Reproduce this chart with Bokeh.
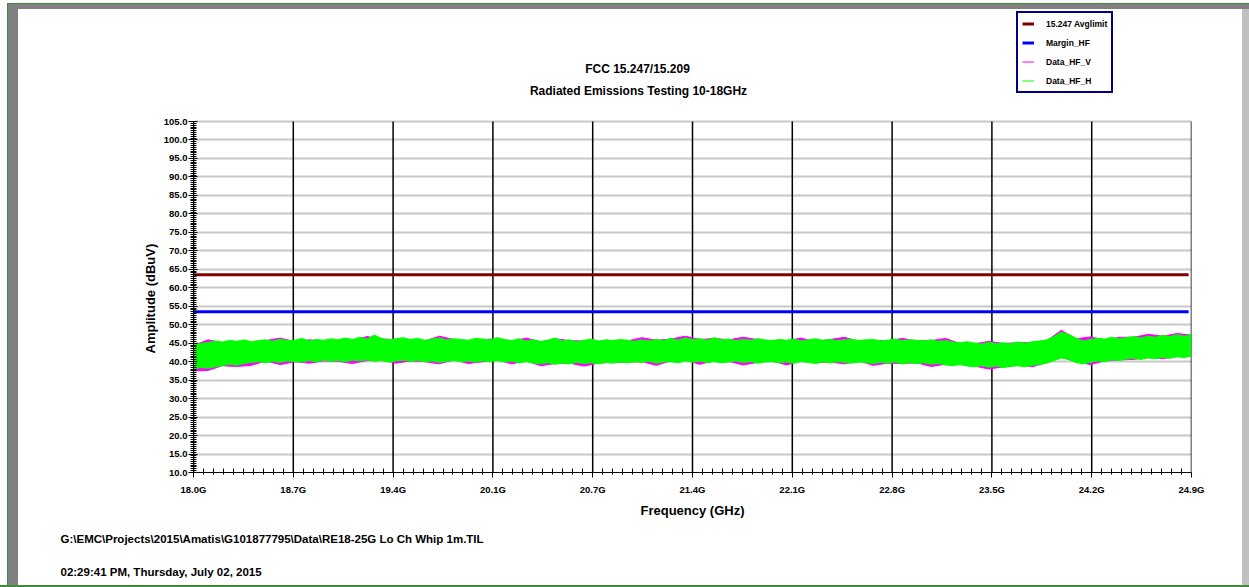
import numpy as np
from bokeh.plotting import figure
from bokeh.models import (Range1d, SingleIntervalTicker, FixedTicker, PrintfTickFormatter,
                          CustomJSTickFormatter, Legend, LegendItem, Title, Label)
from bokeh.embed import file_html
from bokeh.resources import INLINE

FONT = "Liberation Sans"

# ---------------- data ----------------
title_main = "FCC 15.247/15.209"
title_sub = "Radiated Emissions Testing 10-18GHz"
x_label = "Frequency (GHz)"
y_label = "Amplitude (dBuV)"
file_path = "G:\\EMC\\Projects\\2015\\Amatis\\G101877795\\Data\\RE18-25G Lo Ch Whip 1m.TIL"
time_stamp = "02:29:41 PM, Thursday, July 02, 2015"

x_tick_values = [18.0, 18.69, 19.38, 20.07, 20.76, 21.45, 22.14, 22.83, 23.52, 24.21, 24.9]
x_tick_labels = ["18.0G", "18.7G", "19.4G", "20.1G", "20.7G", "21.4G",
                 "22.1G", "22.8G", "23.5G", "24.2G", "24.9G"]
y_min, y_max = 10.0, 105.0

series_names = ["15.247 Avglimit", "Margin_HF", "Data_HF_V", "Data_HF_H"]
avg_limit = 63.5      # dBuV
margin_hf = 53.5      # dBuV

# Data_HF_H envelope (max / min), 0.05 GHz steps from 18.00 to 24.90
h_hi = [44.6, 44.9, 45.2, 45.6, 45.3, 45.8, 45.5, 45.9, 45.4, 45.7,
        45.9, 45.5, 46.1, 45.7, 45.8, 46.3, 45.6, 46.0, 45.8, 46.2,
        45.9, 46.4, 46.0, 46.6, 46.1, 47.2, 46.3, 45.9, 46.2, 46.5,
        46.0, 46.3, 45.8, 46.1, 46.4, 45.9, 46.2, 46.0, 45.8, 46.3,
        46.1, 45.9, 46.5, 46.0, 45.7, 46.2, 45.6, 45.9, 45.5, 45.8,
        46.4, 45.6, 45.9, 45.4, 45.8, 46.1, 45.6, 45.9, 45.7, 46.0,
        45.8, 45.5, 45.9, 45.6, 46.0, 45.7, 46.3, 45.8, 46.4, 46.0,
        46.2, 45.8, 46.5, 45.9, 46.1, 45.7, 46.0, 45.8, 46.2, 45.9,
        45.7, 46.0, 45.8, 46.1, 45.6, 45.9, 46.2, 45.8, 46.0, 45.7,
        45.9, 46.1, 45.7, 45.9, 46.0, 45.6, 45.8, 46.1, 45.7, 45.9,
        45.8, 45.6, 45.9, 45.5, 45.7, 45.3, 45.1, 45.4, 45.0, 44.8,
        45.2, 44.9, 45.1, 44.8, 45.3, 45.0, 45.4, 45.6, 45.9, 46.8,
        48.0, 47.4, 46.4, 45.6, 46.0, 46.3, 46.1, 46.6, 46.2, 46.5,
        46.8, 46.4, 46.9, 46.6, 47.1, 46.8, 47.3, 46.9, 47.4]
h_lo = [38.0, 38.4, 38.2, 38.6, 38.9, 39.3, 39.0, 39.5, 39.8, 40.0,
        39.7, 40.1, 39.8, 40.2, 40.0, 39.9, 40.3, 40.0, 40.4, 40.1,
        40.3, 40.0, 40.4, 40.2, 40.5, 40.1, 40.3, 39.9, 40.2, 40.4,
        40.1, 40.3, 40.0, 40.2, 39.8, 40.1, 40.3, 40.0, 40.2, 39.9,
        40.2, 40.0, 40.3, 39.9, 40.1, 39.7, 40.0, 39.6, 39.4, 39.7,
        39.3, 39.6, 39.4, 39.8, 39.5, 39.7, 39.4, 39.8, 39.6, 39.9,
        39.7, 40.0, 39.8, 40.1, 39.6, 39.9, 40.0, 39.7, 40.2, 39.9,
        40.1, 39.8, 40.0, 39.7, 39.9, 40.2, 39.8, 40.0, 39.6, 39.9,
        40.0, 39.7, 39.9, 39.6, 40.0, 39.8, 39.5, 39.9, 39.7, 40.0,
        39.8, 39.6, 39.9, 39.7, 39.5, 39.8, 39.6, 39.9, 39.4, 39.7,
        39.5, 39.7, 39.3, 39.5, 39.1, 38.9, 39.2, 38.8, 38.6, 38.9,
        38.5, 38.8, 38.4, 38.7, 38.9, 38.6, 39.0, 39.2, 39.6, 40.3,
        41.0, 40.6, 39.8, 39.4, 39.8, 40.2, 40.0, 40.5, 40.3, 40.7,
        40.9, 40.6, 41.0, 40.8, 41.2, 40.9, 41.3, 41.1, 41.5]

# Data_HF_V envelope (max / min), 0.1 GHz steps from 18.0 to 24.9
v_hi = [44.4, 45.9, 45.1, 45.3, 45.2, 45.7, 46.4, 45.4, 45.9, 45.6,
        45.7, 45.8, 46.8, 46.1, 46.0, 45.8, 45.6, 46.9, 46.0, 45.6,
        45.9, 46.3, 45.5, 46.4, 45.3, 46.2, 45.7, 45.6, 45.4, 45.5,
        45.6, 46.5, 45.8, 46.1, 46.9, 46.0, 46.3, 45.9, 46.6, 46.0,
        45.5, 45.6, 46.4, 45.4, 46.0, 46.6, 45.5, 45.8, 45.6, 46.3,
        45.6, 45.7, 46.3, 44.9, 44.8, 45.5, 44.9, 45.1, 45.2, 45.7,
        48.5, 46.2, 46.7, 45.9, 46.6, 46.6, 47.4, 46.9, 47.6, 47.2]
v_lo = [37.5, 37.6, 38.9, 38.7, 39.0, 40.2, 39.2, 40.0, 39.6, 40.2,
        40.1, 39.5, 40.3, 40.5, 39.6, 40.2, 40.0, 39.4, 40.5, 39.5,
        40.0, 40.5, 39.4, 40.2, 38.9, 39.5, 39.6, 38.8, 39.6, 39.8,
        39.9, 40.0, 39.0, 40.2, 40.4, 39.3, 40.2, 40.1, 39.1, 39.8,
        40.2, 39.1, 40.2, 39.7, 39.9, 39.4, 40.2, 39.0, 39.6, 39.5,
        39.7, 38.7, 39.3, 39.4, 38.8, 38.0, 38.6, 39.1, 38.6, 39.8,
        41.2, 40.0, 39.2, 40.2, 40.5, 40.6, 41.2, 40.8, 41.4, 41.7]

f_h = np.round(18.0 + 0.05 * np.arange(len(h_hi)), 3)
f_v = np.round(18.0 + 0.1 * np.arange(len(v_hi)), 3)

colors = ["#800000", "#0000ff", "#ff00ff", "#00ff00"]

# ---------------- geometry (page pixels) ----------------
W, H = 1249, 587
PLOT_L, PLOT_R, PLOT_T, PLOT_B = 193, 1191, 121, 472   # value-area of the chart
FRAME_T = 10                                           # frame extends up for legend/titles
px_per_unit = (PLOT_B - PLOT_T) / (y_max - y_min)
y_top = y_max + (PLOT_T - FRAME_T) / px_per_unit

p = figure(width=W, height=H, output_backend="svg", toolbar_location=None,
           x_range=Range1d(18.0, 24.9), y_range=Range1d(y_min, y_top),
           min_border_left=PLOT_L, min_border_right=W - PLOT_R,
           min_border_top=FRAME_T, min_border_bottom=H - PLOT_B)
p.outline_line_color = None
p.background_fill_color = "white"
p.border_fill_color = None
p.styles = {
    "background-color": "white",
    "box-shadow": ("inset 0 -2px 0 0 #3c8c3c, inset 7px 3px 0 0 #ffffff, "
                   "inset 8px 4px 0 0 #3c8c3c, inset 18px 9px 0 0 #808080, "
                   "inset -7px 0 0 0 #c0c0c0"),
}

# axes
minor = []
for a, b in zip(x_tick_values[:-1], x_tick_values[1:]):
    minor += list(np.linspace(a, b, 11)[1:-1])
p.xaxis.ticker = FixedTicker(ticks=x_tick_values, minor_ticks=minor)
p.xaxis.formatter = CustomJSTickFormatter(args=dict(vals=x_tick_values, labs=x_tick_labels), code="""
    let best = 0, d = 1e9;
    for (let i = 0; i < vals.length; i++) { const e = Math.abs(vals[i] - tick); if (e < d) { d = e; best = i; } }
    return labs[best];
""")
p.yaxis.ticker = SingleIntervalTicker(interval=5, num_minor_ticks=10)
p.yaxis.formatter = PrintfTickFormatter(format="%.1f")
p.yaxis.bounds = (y_min, y_max)

for ax in (p.xaxis[0], p.yaxis[0]):
    ax.axis_line_color = "black"
    ax.axis_line_width = 1
    ax.major_tick_line_color = "black"
    ax.minor_tick_line_color = "black"
    ax.major_label_text_font = FONT
    ax.major_label_text_font_style = "bold"
    ax.major_label_text_font_size = "9.5px"
    ax.major_label_text_color = "black"
    ax.axis_label_text_font = FONT
    ax.axis_label_text_font_style = "bold"
    ax.axis_label_text_color = "black"
    ax.axis_label_text_font_size = "13px"

p.xaxis.axis_label = x_label
p.xaxis.major_tick_in = 0
p.xaxis.major_tick_out = 5
p.xaxis.minor_tick_in = 4
p.xaxis.minor_tick_out = 2
p.xaxis.major_label_standoff = 6
p.xaxis.axis_label_standoff = 5

p.yaxis.major_tick_in = 4
p.yaxis.major_tick_out = 5
p.yaxis.minor_tick_in = 3
p.yaxis.minor_tick_out = 3
p.yaxis.major_label_standoff = 1

# grid
p.xgrid.grid_line_color = None
p.ygrid.grid_line_color = "#c8c8c8"
p.ygrid.grid_line_width = 2
p.ygrid.bounds = (y_min, y_max)
n = len(x_tick_values)
p.segment(x0=x_tick_values, y0=[y_min] * n, x1=x_tick_values, y1=[y_max] * n,
          line_color="black", line_width=1.5)

# data
p.varea(x=f_v, y1=v_lo, y2=v_hi, fill_color=colors[2], fill_alpha=1.0)
r_v = p.line(x=f_v, y=v_hi, line_color=colors[2], line_width=1)
p.line(x=f_v, y=v_lo, line_color=colors[2], line_width=1)
p.varea(x=f_h, y1=h_lo, y2=h_hi, fill_color=colors[3], fill_alpha=1.0)
r_h = p.line(x=f_h, y=h_hi, line_color=colors[3], line_width=1)
p.line(x=f_h, y=h_lo, line_color=colors[3], line_width=1)
r_lim = p.line(x=[18.0, 24.88], y=[avg_limit, avg_limit], line_color=colors[0], line_width=3)
r_mar = p.line(x=[18.0, 24.88], y=[margin_hf, margin_hf], line_color=colors[1], line_width=3)

# legend (inside the extended frame, above the value area)
items = [LegendItem(label=nm, renderers=[r]) for nm, r in
         zip(series_names, [r_lim, r_mar, r_v, r_h])]
legend = Legend(items=items, location=(1016 - PLOT_L, PLOT_B - 93), orientation="vertical",
                border_line_color="#000080", border_line_width=2, border_line_alpha=1.0,
                background_fill_color="white", background_fill_alpha=1.0,
                label_text_font=FONT, label_text_font_style="bold", label_text_font_size="8.5px",
                label_text_color="black", glyph_width=12, glyph_height=13, label_height=13,
                label_standoff=12, spacing=6, padding=4, margin=0)
p.add_layout(legend, "center")

# chart titles
def lab(text, cx, cy, size):
    p.add_layout(Label(x=cx - PLOT_L, y=PLOT_B - cy, x_units="screen", y_units="screen",
                       text=text, text_font=FONT, text_font_style="bold", text_font_size=size,
                       text_color="black", text_align="center", text_baseline="middle"))

lab(title_main, 637, 68, "12px")
lab(title_sub, 638, 90, "12px")

# y-axis title (left panel): text starts at page y=353 and reads upwards
p.add_layout(Title(text=y_label, align="left", offset=PLOT_B - 353, standoff=5,
                   text_font=FONT, text_font_style="bold", text_font_size="13px",
                   text_color="black"), "left")

# footer texts
p.add_layout(Title(text=file_path, align="left", offset=60 - PLOT_L, standoff=21,
                   text_font=FONT, text_font_style="bold", text_font_size="11.5px",
                   text_color="black"), "below")
p.add_layout(Title(text=time_stamp, align="left", offset=60 - PLOT_L, standoff=16,
                   text_font=FONT, text_font_style="bold", text_font_size="11.5px",
                   text_color="black"), "below")

open("out.html", "w").write(file_html(p, INLINE))
